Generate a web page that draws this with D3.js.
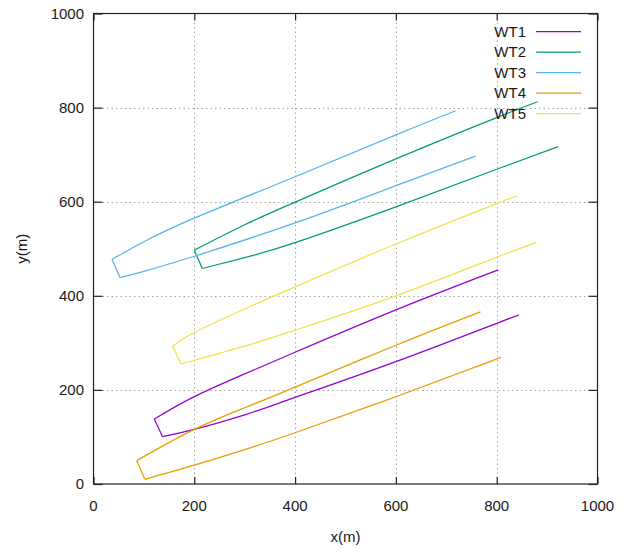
<!DOCTYPE html>
<html>
<head>
<meta charset="utf-8">
<script src="https://cdn.jsdelivr.net/npm/d3@7"></script>
<style>
  body { margin: 0; background: #fff; }
  svg text { font-family: "Liberation Sans", Arial, sans-serif; font-size: 15px; fill: #1a1a1a; }
</style>
</head>
<body>
<div id="chart"></div>
<script>
// wake outlines: [x, y] in metres, tip -> downstream end
let names = ["WT1", "WT2", "WT3", "WT4", "WT5"];
let colors = ["#9400d3", "#009e73", "#56b4e9", "#e69f00", "#f0e442"];

let wt1Upper = [[120.7,138],[200,185.6],[300,234],[400,280],[600,370],[803,455]];
let wt1Lower = [[137,100.6],[200,116],[300,147],[400,184],[600,260],[800,341.5],[844,359]];
let wt2Upper = [[200,497],[300,551],[400,599],[600,691],[800,778.7],[881,812.5]];
let wt2Lower = [[216,458],[300,481],[400,513],[600,589],[800,669],[922,717]];
let wt3Upper = [[36.7,477.5],[100,515],[200,565],[400,653],[600,742],[718.6,793.4]];
let wt3Lower = [[52.6,438.5],[100,452],[200,484],[400,555],[600,634],[758,697]];
let wt4Upper = [[85.7,49.6],[200,116],[300,162],[400,206],[600,295],[768,366]];
let wt4Lower = [[102,10],[200,40],[300,73],[400,109],[600,185.5],[808.5,269]];
let wt5Upper = [[157,293],[200,322],[300,372],[400,419],[600,510],[800,596],[840,612]];
let wt5Lower = [[173.6,255],[200,263],[300,293],[400,327],[600,400],[800,482],[879,513.7]];

let xTicks = [0, 200, 400, 600, 800, 1000];
let yTicks = [0, 200, 400, 600, 800, 1000];

(function() {
  let width = 626, height = 552;
  let left = 93.5, right = 597.5, top = 13.5, bottom = 484;

  let uppers = [wt1Upper, wt2Upper, wt3Upper, wt4Upper, wt5Upper];
  let lowers = [wt1Lower, wt2Lower, wt3Lower, wt4Lower, wt5Lower];

  let svg = d3.select("#chart").append("svg")
    .attr("width", width)
    .attr("height", height);

  let xScale = d3.scaleLinear().domain([0, 1000]).range([left, right]);
  let yScale = d3.scaleLinear().domain([0, 1000]).range([bottom, top]);

  // dotted grid at inner ticks
  let grid = svg.append("g").attr("stroke", "#a8a8a8").attr("stroke-width", 1)
    .attr("stroke-dasharray", "1.5,3");
  xTicks.slice(1, -1).forEach(function(t) {
    grid.append("line")
      .attr("x1", Math.round(xScale(t)) + 0.5).attr("x2", Math.round(xScale(t)) + 0.5)
      .attr("y1", top).attr("y2", bottom);
  });
  yTicks.slice(1, -1).forEach(function(t) {
    grid.append("line")
      .attr("x1", left).attr("x2", right)
      .attr("y1", Math.round(yScale(t)) + 0.5).attr("y2", Math.round(yScale(t)) + 0.5);
  });

  // axes, ticks pointing inward and mirrored
  svg.append("g")
    .attr("transform", "translate(0," + bottom + ")")
    .call(d3.axisTop(xScale).tickValues(xTicks).tickSize(7).tickFormat(""))
    .call(function(g) { g.select(".domain").remove(); });
  svg.append("g")
    .attr("transform", "translate(0," + top + ")")
    .call(d3.axisBottom(xScale).tickValues(xTicks).tickSize(7).tickFormat(""))
    .call(function(g) { g.select(".domain").remove(); });
  svg.append("g")
    .attr("transform", "translate(" + left + ",0)")
    .call(d3.axisRight(yScale).tickValues(yTicks).tickSize(9).tickFormat(""))
    .call(function(g) { g.select(".domain").remove(); });
  svg.append("g")
    .attr("transform", "translate(" + right + ",0)")
    .call(d3.axisLeft(yScale).tickValues(yTicks).tickSize(9).tickFormat(""))
    .call(function(g) { g.select(".domain").remove(); });
  svg.selectAll(".tick line").attr("stroke", "#222").attr("stroke-width", 1.2);

  svg.append("rect")
    .attr("x", left).attr("y", top)
    .attr("width", right - left).attr("height", bottom - top)
    .attr("fill", "none").attr("stroke", "#222").attr("stroke-width", 1.2);

  // tick labels
  svg.selectAll(".xlab").data(xTicks).enter().append("text")
    .attr("x", function(d) { return xScale(d); })
    .attr("y", 511)
    .attr("text-anchor", "middle")
    .text(function(d) { return d; });
  svg.selectAll(".ylab").data(yTicks).enter().append("text")
    .attr("x", 84)
    .attr("y", function(d) { return yScale(d) + 5.4; })
    .attr("text-anchor", "end")
    .text(function(d) { return d; });

  svg.append("text")
    .attr("x", (left + right) / 2).attr("y", 542)
    .attr("text-anchor", "middle")
    .text("x(m)");
  svg.append("text")
    .attr("transform", "translate(27," + ((top + bottom) / 2) + ") rotate(-90)")
    .attr("text-anchor", "middle")
    .text("y(m)");

  // wake outlines
  let line = d3.line()
    .x(function(d) { return xScale(d[0]); })
    .y(function(d) { return yScale(d[1]); })
    .curve(d3.curveNatural);
  let straight = d3.line()
    .x(function(d) { return xScale(d[0]); })
    .y(function(d) { return yScale(d[1]); });

  let wakes = svg.append("g").attr("fill", "none").attr("stroke-width", 1.25)
    .attr("stroke-linejoin", "round");
  names.forEach(function(n, i) {
    wakes.append("path").attr("d", line(uppers[i])).attr("stroke", colors[i]);
    wakes.append("path").attr("d", line(lowers[i])).attr("stroke", colors[i]);
    wakes.append("path").attr("d", straight([uppers[i][0], lowers[i][0]])).attr("stroke", colors[i]);
  });

  // legend
  let legend = svg.append("g");
  names.forEach(function(n, i) {
    let y = 31.5 + i * 20.5;
    legend.append("text")
      .attr("x", 526).attr("y", y + 5.4)
      .attr("text-anchor", "end")
      .text(n);
    legend.append("line")
      .attr("x1", 536).attr("x2", 581)
      .attr("y1", y).attr("y2", y)
      .attr("stroke", colors[i]).attr("stroke-width", 1.25);
  });
})();
</script>
</body>
</html>
